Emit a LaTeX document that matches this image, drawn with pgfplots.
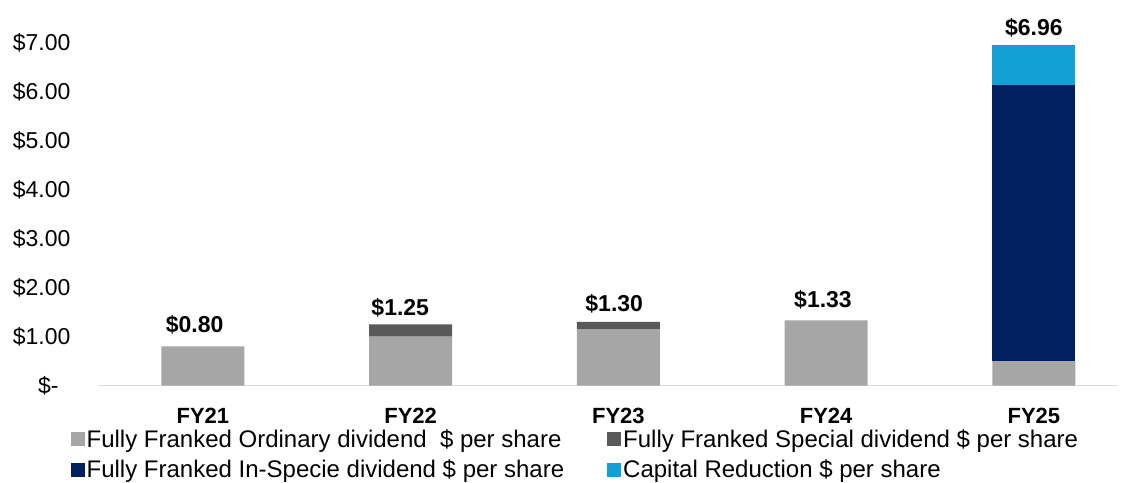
\documentclass[border=0pt]{standalone}
\usepackage{pgfplots}
\pgfplotsset{compat=1.18}
\usepackage{pgfplotstable}
\usepackage{fontspec}
\setmainfont{Liberation Sans}
\definecolor{ordc}{HTML}{A6A6A6}
\definecolor{specc}{HTML}{595959}
\definecolor{inspc}{HTML}{002060}
\definecolor{capc}{HTML}{12A0D7}
\definecolor{axc}{HTML}{D9D9D9}
\pgfplotstableread{
x ord spec insp cap total labx laby label
0 0.80 0.00 0.00 0.00 0.80 -0.04 0.89 {\$0.80}
1 1.00 0.25 0.00 0.00 1.25 0.95 1.25 {\$1.25}
2 1.15 0.15 0.00 0.00 1.30 1.98 1.33 {\$1.30}
3 1.33 0.00 0.00 0.00 1.33 2.985 1.40 {\$1.33}
4 0.50 0.00 5.64 0.82 6.96 4.00 6.96 {\$6.96}
}\datatable
\pgfplotsset{common/.style={
  scale only axis,
  width=1018pt, height=365pt,
  xmin=-0.5, xmax=4.4,
  ymin=0, ymax=7.45,
}}
\begin{document}
\begin{tikzpicture}
\begin{axis}[
  common,
  ybar stacked,
  bar width=83pt,
  axis x line*=bottom, axis y line*=left,
  y axis line style={draw=none},
  x axis line style={draw=axc, line width=1pt},
  tick style={draw=none},
  xtick=data,
  xticklabels={FY21,FY22,FY23,FY24,FY25},
  xticklabel style={font=\fontsize{22}{26}\selectfont\bfseries, yshift=-19pt},
  ytick={0,1,2,3,4,5,6,7},
  yticklabels={\$-\hspace*{12pt},\$1.00,\$2.00,\$3.00,\$4.00,\$5.00,\$6.00,\$7.00},
  yticklabel style={font=\fontsize{23}{27}\selectfont, xshift=-25pt},
  legend columns=2,
  legend style={draw=none, fill=none, at={(-0.031,-0.11)}, anchor=north west,
    font=\fontsize{24}{28}\selectfont, cells={anchor=west},
    /tikz/every even column/.append style={column sep=41pt},
    row sep=7pt},
  legend image code/.code={\fill[#1] (0pt,-7pt) rectangle (14pt,7pt);},
]
\addplot[fill=ordc, draw=none] table[x=x,y=ord]{\datatable};
\addlegendentry{Fully Franked Ordinary dividend \ \$ per share}
\addplot[fill=specc, draw=none] table[x=x,y=spec]{\datatable};
\addlegendentry{Fully Franked Special dividend \$ per share}
\addplot[fill=inspc, draw=none] table[x=x,y=insp]{\datatable};
\addlegendentry{Fully Franked In-Specie dividend \$ per share}
\addplot[fill=capc, draw=none] table[x=x,y=cap]{\datatable};
\addlegendentry{Capital Reduction \$ per share}
\end{axis}
\begin{axis}[
  common,
  hide axis,
  nodes near coords style={font=\fontsize{23}{27}\selectfont\bfseries, anchor=south, yshift=4pt},
]
\addplot[draw=none, mark=none, nodes near coords, point meta=explicit symbolic] table[x=labx,y=laby,meta=label]{\datatable};
\end{axis}
\pgfresetboundingbox
\path ([xshift=-99pt,yshift=-96.5pt]current axis.south west) rectangle ([xshift=1025pt,yshift=20.5pt]current axis.north west);
\end{tikzpicture}
\end{document}
